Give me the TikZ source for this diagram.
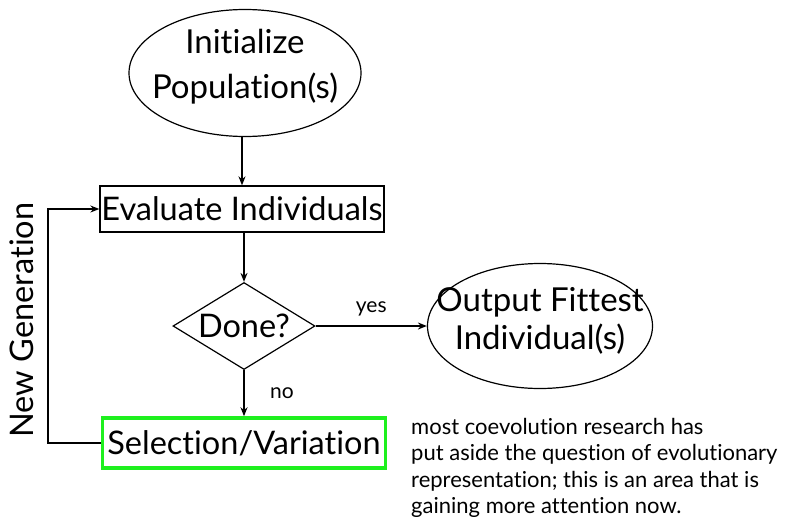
\documentclass[tikz,border=0pt]{standalone}
\usepackage{fontspec}
\setmainfont{Lato}[Ligatures={NoCommon,NoContextual}]
\usetikzlibrary{shapes.geometric,arrows.meta}
\definecolor{selgreen}{RGB}{30,240,30}
\tikzset{
  big/.style={font=\fontsize{32.5}{38}\selectfont},
  small/.style={font=\fontsize{21}{24}\selectfont},
  oval/.style={ellipse,draw,line width=1.2pt,inner sep=0pt},
  boxnode/.style={rectangle,draw,line width=1.3pt,inner sep=0pt,big},
  flow/.style={line width=1.5pt,-{Stealth[length=9pt,width=7pt]}},
}
\begin{document}
\begin{tikzpicture}[x=1pt,y=-1pt]
\useasboundingbox (0,0) rectangle (786,525);
\node[oval,minimum width=232pt,minimum height=127pt,
  label={[align=center,font=\fontsize{33}{45}\selectfont,yshift=6pt]center:Initialize\\Population(s)}] (init) at (245,73) {};
\node[boxnode,minimum width=284pt,minimum height=46pt] (eval) at (242,209) {Evaluate Individuals};
\node[diamond,draw,line width=1.2pt,inner sep=0pt,minimum width=142pt,
  minimum height=87pt,label={[big]center:Done?}] (done) at (244,326) {};
\node[oval,minimum width=225pt,minimum height=125pt,
  label={[align=center,font=\fontsize{33}{38}\selectfont,yshift=5pt]center:Output Fittest\\Individual(s)}] (out) at (540,326) {};
\node[boxnode,draw=selgreen,line width=3.5pt,minimum width=283pt,minimum height=50pt] (sel) at (244,443) {Selection/Variation};
\coordinate (fbtop) at (48,209);
\coordinate (fbbot) at (48,443);
\draw[flow] (init.south -| eval.north) -- (eval.north);
\draw[flow] (eval.south -| done.north) -- (done.north);
\draw[flow] (done.east) -- node[small,above=6pt] (yes) {yes} (out.west);
\draw[flow] (done.south) -- node[small,right=22pt] (no) {no} (done.south |- sel.north);
\draw[flow] (sel.west) -- (fbbot) -- (fbtop) -- (eval.west);
\node[big,rotate=90] (newgen) at (22,320) {New Generation};
\node[anchor=north west,align=left,inner sep=0pt,font=\fontsize{22}{26.5}\selectfont] (note) at (411,418)
 {most coevolution research has\\put aside the question of evolutionary\\representation; this is an area that is\\gaining more attention now.};
\end{tikzpicture}
\end{document}
